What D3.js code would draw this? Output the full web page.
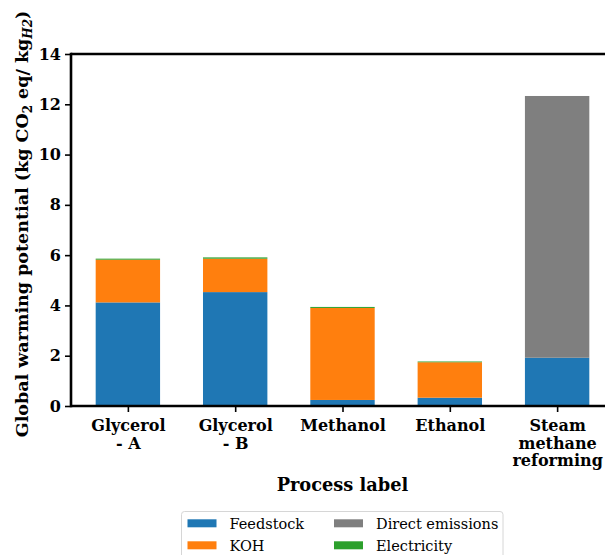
<!DOCTYPE html>
<html>
<head>
<meta charset="utf-8">
<script src="https://cdn.jsdelivr.net/npm/d3@7"></script>
<style>
  body { margin: 0; background: #fff; }
  svg { display: block; font-family: "DejaVu Serif", serif; }
</style>
</head>
<body>
<svg id="chart" width="605" height="555"></svg>
<script>
// Process categories (multi-line tick labels)
const categories = ["Glycerol\n- A", "Glycerol\n- B", "Methanol", "Ethanol", "Steam\nmethane\nreforming"];
// Contributions to global warming potential, kg CO2 eq / kg H2
const feedstock = [4.12, 4.53, 0.24, 0.33, 1.92];
const koh = [1.70, 1.33, 3.66, 1.41, 0];
const directEmissions = [0, 0, 0, 0, 10.41];
const electricity = [0.04, 0.05, 0.04, 0.03, 0];
const seriesNames = ["Feedstock", "KOH", "Direct emissions", "Electricity"];
const seriesColors = ["#1f77b4", "#ff7f0e", "#7f7f7f", "#2ca02c"];
const yTicks = [0, 2, 4, 6, 8, 10, 12, 14];

const FONT = "DejaVu Serif";
const svg = d3.select("#chart");
const plotLeft = 71, plotTop = 54, plotBottom = 406, plotRight = 614;

const x = d3.scaleLinear().domain([-0.53, 4.53]).range([plotLeft, plotRight]);
const y = d3.scaleLinear().domain([0, 14]).range([plotBottom, plotTop]);
const barWidth = 0.6;

const rows = categories.map((c, i) => ({
  i, Feedstock: feedstock[i], KOH: koh[i],
  "Direct emissions": directEmissions[i], Electricity: electricity[i]
}));
const stacked = d3.stack().keys(seriesNames)(rows);

const g = svg.append("g");
stacked.forEach((layer, k) => {
  g.selectAll(null).data(layer).enter().append("rect")
    .attr("x", d => x(d.data.i - barWidth / 2))
    .attr("width", d => x(barWidth) - x(0))
    .attr("y", d => y(d[1]))
    .attr("height", d => Math.max(0, y(d[0]) - y(d[1])))
    .attr("fill", seriesColors[k]);
});

// Y axis
const yAxis = d3.axisLeft(y).tickValues(yTicks).tickSize(6).tickPadding(4).tickFormat(d3.format("d"));
const ya = svg.append("g").attr("transform", `translate(${plotLeft},0)`).call(yAxis)
  .attr("font-family", FONT);
ya.select(".domain").remove();
ya.selectAll(".tick line").attr("stroke", "#000").attr("stroke-width", 1.6);
ya.selectAll(".tick text").attr("font-family", FONT).attr("font-weight", "bold")
  .attr("font-size", 16).attr("fill", "#000");

// X axis
const xAxis = d3.axisBottom(x).tickValues(d3.range(categories.length)).tickSize(6).tickFormat("");
const xa = svg.append("g").attr("transform", `translate(0,${plotBottom})`).call(xAxis)
  .attr("font-family", FONT);
xa.select(".domain").remove();
xa.selectAll(".tick line").attr("stroke", "#000").attr("stroke-width", 1.6);
xa.selectAll(".tick").each(function(d) {
  const t = d3.select(this).append("text")
    .attr("text-anchor", "middle").attr("fill", "#000")
    .attr("font-family", FONT).attr("font-weight", "bold").attr("font-size", 16);
  categories[d].split("\n").forEach((line, j) => {
    t.append("tspan").attr("x", 0).attr("y", 25 + j * 17.5).text(line);
  });
});

// Spines
const spine = svg.append("g").attr("stroke", "#000").attr("stroke-width", 2.6).attr("fill", "none");
spine.append("line").attr("x1", plotLeft).attr("x2", plotLeft).attr("y1", plotTop - 1.3).attr("y2", plotBottom + 1.3);
spine.append("line").attr("x1", plotLeft).attr("x2", plotRight).attr("y1", plotBottom).attr("y2", plotBottom);
spine.append("line").attr("x1", plotLeft).attr("x2", plotRight).attr("y1", plotTop).attr("y2", plotTop);
spine.append("line").attr("x1", plotRight).attr("x2", plotRight).attr("y1", plotTop).attr("y2", plotBottom);

// Axis titles
svg.append("text").attr("x", (plotLeft + plotRight) / 2).attr("y", 491)
  .attr("text-anchor", "middle").attr("font-family", FONT).attr("font-weight", "bold").attr("font-size", 17.8)
  .text("Process label");

const yl = svg.append("text").attr("transform", "translate(28,224) rotate(-90)")
  .attr("text-anchor", "middle").attr("font-family", FONT).attr("font-weight", "bold").attr("font-size", 17.5);
yl.append("tspan").text("Global warming potential (kg CO");
yl.append("tspan").attr("font-size", 12).attr("dy", 4).text("2");
yl.append("tspan").attr("dy", -4).text(" eq/ kg");
yl.append("tspan").attr("font-size", 12).attr("dy", 4).attr("font-style", "italic").text("H2");
yl.append("tspan").attr("dy", -4).text(")");

// Legend
const legend = svg.append("g").attr("font-family", FONT);
legend.append("rect").attr("x", 181.5).attr("y", 511.5).attr("width", 321.5).attr("height", 60)
  .attr("rx", 3).attr("fill", "#fff").attr("stroke", "#d6d6d6").attr("stroke-width", 1);
seriesNames.forEach((name, k) => {
  const col = Math.floor(k / 2), row = k % 2;
  const lx = 187.5 + col * 146.5, ly = 523.3 + row * 22;
  legend.append("rect").attr("x", lx).attr("y", ly - 4).attr("width", 29).attr("height", 8)
    .attr("fill", seriesColors[k]);
  legend.append("text").attr("x", lx + 42).attr("y", ly + 5.5)
    .attr("font-family", FONT).attr("font-size", 14.5).attr("fill", "#000").text(name);
});
</script>
</body>
</html>
